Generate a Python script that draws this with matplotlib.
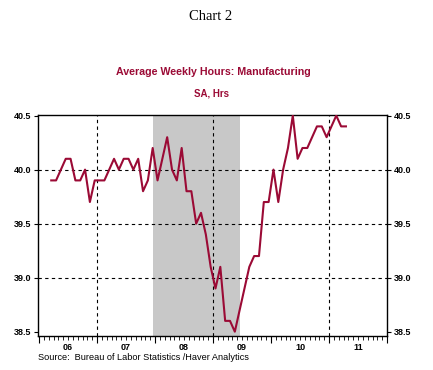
import numpy as np
import matplotlib
matplotlib.use("Agg")
from matplotlib import pyplot as plt
import matplotlib.transforms as mtransforms

# monthly average weekly hours, manufacturing (Mar 2006 - Apr 2011)
hours2006 = [39.9, 39.9, 40.0, 40.1, 40.1, 39.9, 39.9, 40.0, 39.7, 39.9]   # Mar-Dec
hours2007 = [39.9, 39.9, 40.0, 40.1, 40.0, 40.1, 40.1, 40.0, 40.1, 39.8, 39.9, 40.2]
hours2008 = [39.9, 40.1, 40.3, 40.0, 39.9, 40.2, 39.8, 39.8, 39.5, 39.6, 39.4, 39.1]
hours2009 = [38.9, 39.1, 38.6, 38.6, 38.5, 38.7, 38.9, 39.1, 39.2, 39.2, 39.7, 39.7]
hours2010 = [40.0, 39.7, 40.0, 40.2, 40.5, 40.1, 40.2, 40.2, 40.3, 40.4, 40.4, 40.3]
hours2011 = [40.4, 40.5, 40.4, 40.4]   # Jan-Apr

year_labels = ['06', '07', '08', '09', '10', '11']
year_vals = [2006, 2007, 2008, 2009, 2010, 2011]
y_ticks = [38.5, 39.0, 39.5, 40.0, 40.5]
recession = (2007 + 11.5 / 12, 2009 + 5.5 / 12)   # Dec 2007 - Jun 2009

hours = hours2006 + hours2007 + hours2008 + hours2009 + hours2010 + hours2011
# plot each month at mid-month, starting March 2006
t = 2006 + (2 + np.arange(len(hours)) + 0.5) / 12.0

red = '#9b0a35'

fig = plt.figure(figsize=(4.33, 3.70), dpi=100)
ax = fig.add_axes([38 / 433, 1 - 336 / 370, (387 - 38) / 433, (336 - 114.5) / 370])

ax.axvspan(recession[0], recession[1], color='#c8c8c8', lw=0, zorder=0)

for yv in [39.0, 39.5, 40.0]:
    ax.axhline(yv, color='black', lw=0.8, ls=(0, (3, 3)), zorder=1)
for xv in [2007, 2009, 2011]:
    ax.axvline(xv, color='black', lw=0.8, ls=(0, (3, 3)), zorder=1)

ax.plot(t, hours, color=red, lw=1.5, zorder=3)

ax.set_xlim(2005.98, 2012.0)
ax.set_ylim(38.46, 40.51)

ax.set_yticks(y_ticks)
ax.set_yticklabels(['%.1f' % v for v in y_ticks], fontsize=6.5, fontweight='bold', family='Liberation Sans')
ax.tick_params(axis='y', direction='out', length=3, width=0.8, left=True, right=True,
               labelleft=True, labelright=True, pad=2)

ax.set_xticks(np.arange(2006, 2013))
ax.set_xticks(np.arange(2006, 2012, 1 / 12.0), minor=True)
ax.set_xticklabels([])
ax.tick_params(axis='x', which='major', direction='out', length=5, width=0.8)
ax.tick_params(axis='x', which='minor', direction='out', length=3, width=0.6)

for s in ax.spines.values():
    s.set_linewidth(1.0)

trans = mtransforms.blended_transform_factory(ax.transData, ax.transAxes)
for yr, lab in zip(year_vals, year_labels):
    ax.text(yr + 0.5, -0.05, lab, transform=trans, ha='center', va='center',
            fontsize=6.5, fontweight='bold', family='Liberation Sans')

fig.text(211 / 433, 1 - 17 / 370, 'Chart 2', ha='center', va='center',
         fontsize=10.5, family='Liberation Serif')
fig.text(213 / 433, 1 - 72 / 370, 'Average Weekly Hours: Manufacturing', ha='center', va='center',
         fontsize=7.7, fontweight='bold', color=red, family='Liberation Sans')
fig.text(212 / 433, 1 - 94 / 370, 'SA, Hrs', ha='center', va='center',
         fontsize=7, fontweight='bold', color=red, family='Liberation Sans')
fig.text(38 / 433, 1 - 357 / 370, 'Source:  Bureau of Labor Statistics /Haver Analytics',
         ha='left', va='center', fontsize=6.6, family='Liberation Sans')

fig.savefig('out.png', dpi=100)
